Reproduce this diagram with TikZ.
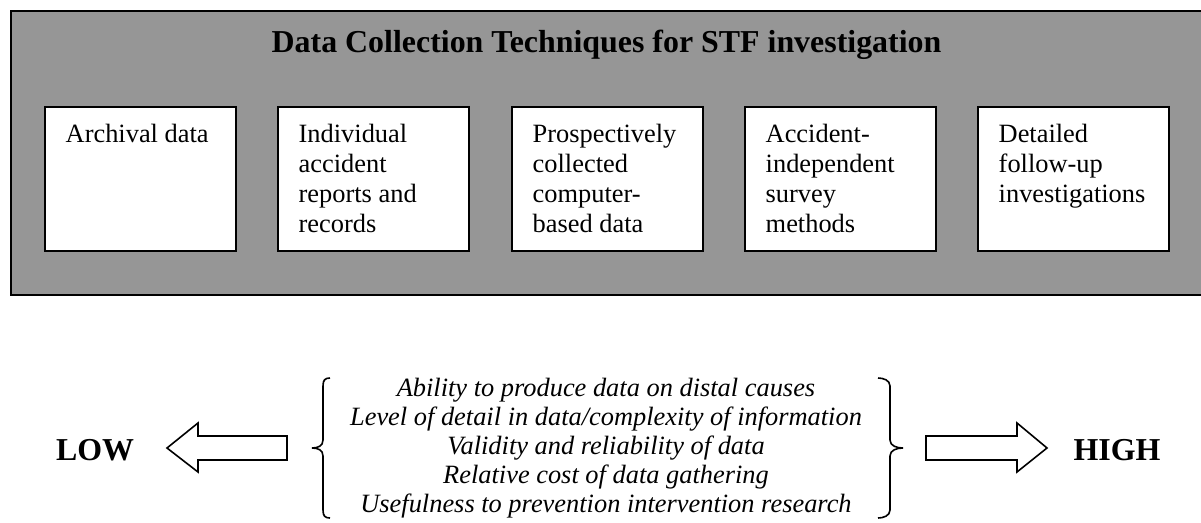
\documentclass[tikz,border=0pt]{standalone}
\usepackage{fontspec}
\setmainfont{Liberation Serif}
\definecolor{panelgray}{RGB}{150,150,150}
\tikzset{
  panel/.style={draw=black, line width=2pt, fill=panelgray, anchor=north west, minimum width=1193pt, minimum height=284pt, inner sep=0pt},
  techbox/.style={draw=black, line width=2pt, fill=white, minimum width=191pt, minimum height=144pt, inner sep=0pt},
  boxtext/.style={anchor=north west, align=left, inner sep=0pt, font=\fontsize{26.4}{30}\selectfont},
  titletext/.style={anchor=base, inner sep=0pt, font=\fontsize{31.9}{36}\selectfont\bfseries},
  endtext/.style={anchor=base, inner sep=0pt, font=\fontsize{31.9}{36}\selectfont\bfseries},
  crit/.style={anchor=north, align=center, inner sep=0pt, font=\fontsize{26.4}{29}\selectfont\itshape},
  bigarrow/.style={draw=black, line width=1.6pt, fill=white, line join=miter},
  brace/.style={draw=black, line width=1.6pt}
}
\begin{document}
\begin{tikzpicture}[x=1pt,y=-1pt]
\useasboundingbox (0,0) rectangle (1201,522);
\node[panel] (panel) at (10,10) {};
\node[titletext] (title) at (606.5,52) {Data Collection Techniques for STF investigation};
\node[techbox] (b1) at (140.5,179) {};
\node[techbox] (b2) at (373.5,179) {};
\node[techbox] (b3) at (607.5,179) {};
\node[techbox] (b4) at (840.5,179) {};
\node[techbox] (b5) at (1073.5,179) {};
\node[boxtext] (t1) at ([shift={(21.5,15.5)}]b1.north west) {\strut Archival data};
\node[boxtext] (t2) at ([shift={(21.5,15.5)}]b2.north west) {\strut Individual\\accident\\reports and\\records};
\node[boxtext] (t3) at ([shift={(21.5,15.5)}]b3.north west) {\strut Prospectively\\collected\\computer-\\based data};
\node[boxtext] (t4) at ([shift={(21.5,15.5)}]b4.north west) {\strut Accident-\\independent\\survey\\methods};
\node[boxtext] (t5) at ([shift={(21.5,15.5)}]b5.north west) {\strut Detailed\\follow-up\\investigations};
\node[crit] (crit) at (606,375.7) {\strut Ability to produce data on distal causes\\Level of detail in data/complexity of information\\Validity and reliability of data\\Relative cost of data gathering\\Usefulness to prevention intervention research};
\node[endtext] (low) at (95,460) {LOW};
\node[endtext] (high) at (1117,460) {HIGH};
% arrows
\draw[bigarrow] (167,448) -- (198,423) -- (198,436) -- (287,436) -- (287,460) -- (198,460) -- (198,472) -- cycle;
\draw[bigarrow] (926,436) -- (1017,436) -- (1017,423) -- (1047,448) -- (1017,472) -- (1017,460) -- (926,460) -- cycle;
% braces
\draw[brace] (330,378) .. controls (325,378) and (323,380) .. (323,386) -- (323,440) .. controls (323,446) and (318,448) .. (312,448) .. controls (318,448) and (323,450) .. (323,456) -- (323,510) .. controls (323,516) and (325,518) .. (330,518);
\draw[brace] (878,378) .. controls (883,378) and (890,380) .. (890,386) -- (890,440) .. controls (890,446) and (897,448) .. (903,448) .. controls (897,448) and (890,450) .. (890,456) -- (890,510) .. controls (890,516) and (883,518) .. (878,518);
\end{tikzpicture}
\end{document}
